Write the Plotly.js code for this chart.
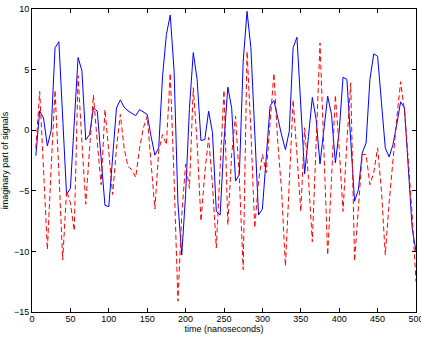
<!DOCTYPE html>
<html>
<head>
<meta charset="utf-8">
<script src="https://cdn.plot.ly/plotly-3.0.1.min.js"></script>
<style>html,body{margin:0;padding:0;background:#fff;}#chart{width:421px;height:337px;}</style>
</head>
<body>
<div id="chart"></div>
<script>
const timeNs = [5,10,15,20,25,30,35,40,45,50,55,60,65,70,75,80,85,90,95,100,
  105,110,115,120,125,130,135,140,145,150,155,160,165,170,175,180,185,190,195,200,
  205,210,215,220,225,230,235,240,245,250,255,260,265,270,275,280,285,290,295,300,
  305,310,315,320,325,330,335,340,345,350,355,360,365,370,375,380,385,390,395,400,
  405,410,415,420,425,430,435,440,445,450,455,460,465,470,475,480,485,490,495,500];

const blueSignal = [-2.1,1.6,1.0,-1.3,0.0,6.8,7.3,1.0,-5.3,-4.8,0.5,6.0,4.9,-0.8,-0.35,1.84,1.57,-2.5,-6.2,-6.3,
  -2.0,1.84,2.5,1.9,1.6,1.43,1.2,1.7,1.5,1.3,-0.5,-2.06,-1.46,4.46,7.9,9.5,4.9,-6.0,-10.3,-5.3,
  1.8,6.4,4.2,-0.85,-0.77,1.57,-0.2,-6.7,-7.0,-0.9,3.55,1.84,-4.2,-3.66,5.7,9.8,6.8,-0.5,-7.0,-6.5,
  -2.0,2.0,2.45,0.88,-0.4,-1.6,-0.08,6.8,7.67,2.0,-3.6,-0.5,2.7,0.88,-2.78,0.0,2.8,1.3,-2.7,-0.08,
  4.37,4.2,-1.0,-5.86,-4.9,-1.87,-1.05,4.2,6.3,6.1,2.3,-1.46,-2.2,-1.2,0.5,2.34,1.84,-3.0,-8.06,-10.0];

const redSignal = [-1.5,3.2,-3.2,-9.85,-3.0,3.3,-3.5,-10.7,-5.0,-6.0,-8.3,4.5,-1.0,-6.1,-1.5,2.9,-1.0,-4.5,1.7,-2.0,
  -5.3,-1.5,1.3,-1.5,-3.0,-3.25,-3.9,-1.5,0.2,1.15,-2.5,-6.5,-1.7,-0.36,-1.2,4.7,-4.0,-14.1,-7.0,-2.8,
  -4.8,3.5,-1.0,-7.5,-3.5,-0.6,-4.5,-9.7,-3.0,3.3,-7.8,-2.0,1.15,-4.0,-11.5,6.5,0.0,-8.06,-4.2,-2.0,
  -3.5,0.5,4.7,-1.0,-5.0,-11.2,-4.0,2.5,-2.0,-6.7,0.2,-4.0,-9.2,-1.0,7.2,-1.5,-10.3,-4.0,2.9,-1.5,
  -6.7,-1.0,3.9,-10.8,-6.0,-2.0,-2.0,-4.5,-3.5,-1.46,-5.0,-10.3,-6.0,-2.3,1.0,4.0,1.6,-2.5,-7.0,-12.5];

const xTicks = [0,50,100,150,200,250,300,350,400,450,500];
const yTicks = [-15,-10,-5,0,5,10];

const font = {family: 'Liberation Sans, Arial, sans-serif', size: 9, color: '#000'};

const traces = [
  {x: timeNs, y: blueSignal, type: 'scatter', mode: 'lines',
   line: {color: '#0000ff', width: 1}, hoverinfo: 'skip'},
  {x: timeNs, y: redSignal, type: 'scatter', mode: 'lines',
   line: {color: '#ff0000', width: 1, dash: '5px,3px'}, hoverinfo: 'skip'}
];

const axisCommon = {
  showgrid: false, zeroline: false, showline: true, linecolor: '#000', linewidth: 1,
  mirror: 'ticks', ticks: 'inside', ticklen: 4, tickcolor: '#000', tickfont: font,
  ticklabeloverflow: 'allow'
};

const layout = {
  width: 421, height: 337,
  margin: {l: 32, r: 5, t: 9, b: 25},
  paper_bgcolor: '#fff', plot_bgcolor: '#fff',
  showlegend: false,
  font: font,
  xaxis: Object.assign({}, axisCommon, {
    range: [0, 500], tickmode: 'array', tickvals: xTicks, ticktext: xTicks.map(String),
    ticklabelstandoff: -2,
    title: {text: 'time (nanoseconds)', font: font, standoff: 0}
  }),
  yaxis: Object.assign({}, axisCommon, {
    range: [-15, 10], tickmode: 'array', tickvals: yTicks, ticktext: yTicks.map(v => v < 0 ? '\u2212' + Math.abs(v) : String(v)),
    title: {text: 'imaginary part of signals', font: font, standoff: 4}
  })
};

Plotly.newPlot('chart', traces, layout, {staticPlot: true, displayModeBar: false});
</script>
</body>
</html>
